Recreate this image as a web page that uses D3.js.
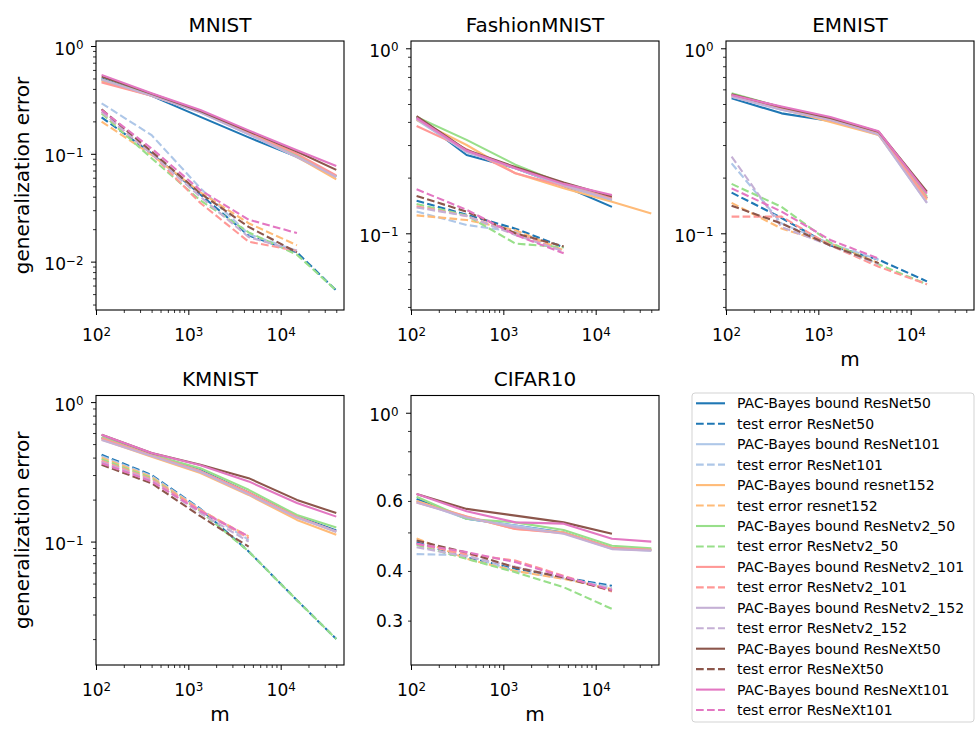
<!DOCTYPE html>
<meta charset="utf-8">
<style>
body { margin: 0; background: #fff; }
text { font-family: "DejaVu Sans", sans-serif; fill: #000; }
</style>

<svg width="975" height="729"></svg>

<script src="https://d3js.org/d3.v7.min.js"></script>
<script>
// PAC-Bayes bound vs test error for several ResNet variants, five datasets, log-log

var models = ["ResNet50", "ResNet101", "resnet152", "ResNetv2_50", "ResNetv2_101", "ResNetv2_152", "ResNeXt50", "ResNeXt101"];
var colors = ["#1f77b4", "#aec7e8", "#ffbb78", "#98df8a", "#ff9896", "#c5b0d5", "#8c564b", "#e377c2"];

// training set sizes (x axis)
var mValues = [115, 400, 1350, 4500, 15000, 40000];

// one row per model, one value per m (null = not run)
var mnistBound = [
  [0.50, 0.345, 0.22, 0.142, 0.094, 0.062],
  [0.49, 0.35, 0.243, 0.152, 0.093, 0.061],
  [0.47, 0.345, 0.245, 0.155, 0.094, 0.058],
  [0.49, 0.35, 0.245, 0.155, 0.097, 0.062],
  [0.46, 0.345, 0.245, 0.157, 0.10, 0.063],
  [0.49, 0.345, 0.242, 0.152, 0.094, 0.061],
  [0.52, 0.36, 0.25, 0.162, 0.105, 0.071],
  [0.54, 0.365, 0.255, 0.165, 0.108, 0.077]
];
var mnistTest = [
  [0.218, 0.101, 0.042, 0.0175, 0.0122, 0.0054],
  [0.294, 0.149, 0.048, 0.018, 0.0126, null],
  [0.199, 0.098, 0.044, 0.0227, 0.0142, null],
  [0.237, 0.091, 0.037, 0.0187, 0.0116, 0.0054],
  [0.245, 0.100, 0.035, 0.0153, 0.0126, null],
  [0.246, 0.100, 0.040, 0.0169, 0.0126, null],
  [0.259, 0.105, 0.043, 0.021, 0.0122, null],
  [0.255, 0.112, 0.046, 0.0245, 0.0184, null]
];

var fashionBound = [
  [0.425, 0.265, 0.225, 0.18, 0.139, null],
  [0.41, 0.275, 0.225, 0.18, 0.15, null],
  [0.41, 0.30, 0.211, 0.175, 0.148, 0.128],
  [0.425, 0.32, 0.235, 0.185, 0.152, null],
  [0.38, 0.285, 0.211, 0.18, 0.155, null],
  [0.415, 0.275, 0.225, 0.182, 0.152, null],
  [0.43, 0.282, 0.228, 0.188, 0.158, null],
  [0.42, 0.28, 0.225, 0.185, 0.161, null]
];
var fashionTest = [
  [0.150, 0.126, 0.106, 0.084, null, null],
  [0.131, 0.111, 0.102, 0.080, null, null],
  [0.125, 0.118, 0.104, 0.081, null, null],
  [0.144, 0.125, 0.088, 0.084, null, null],
  [0.140, 0.124, 0.100, 0.080, null, null],
  [0.138, 0.124, 0.098, 0.080, null, null],
  [0.159, 0.131, 0.100, 0.085, null, null],
  [0.173, 0.134, 0.098, 0.078, null, null]
];

var emnistBound = [
  [0.537, 0.445, 0.405, 0.345, 0.155, null],
  [0.548, 0.465, 0.41, 0.34, 0.146, null],
  [0.55, 0.47, 0.40, 0.34, 0.152, null],
  [0.571, 0.48, 0.415, 0.35, 0.158, null],
  [0.555, 0.47, 0.41, 0.345, 0.155, null],
  [0.548, 0.465, 0.41, 0.342, 0.146, null],
  [0.565, 0.48, 0.42, 0.354, 0.168, null],
  [0.559, 0.484, 0.425, 0.356, 0.164, null]
];
var emnistTest = [
  [0.166, 0.121, 0.086, 0.072, 0.055, null],
  [0.239, 0.113, 0.088, 0.072, null, null],
  [0.146, 0.106, 0.088, 0.069, null, null],
  [0.185, 0.139, 0.089, 0.068, 0.053, null],
  [0.123, 0.123, 0.086, 0.066, 0.053, null],
  [0.26, 0.108, 0.086, 0.068, null, null],
  [0.141, 0.113, 0.086, 0.069, null, null],
  [0.175, 0.131, 0.092, 0.073, null, null]
];

var kmnistBound = [
  [0.555, 0.42, 0.325, 0.225, 0.152, 0.12],
  [0.55, 0.415, 0.32, 0.222, 0.15, 0.117],
  [0.54, 0.405, 0.31, 0.216, 0.143, 0.112],
  [0.56, 0.42, 0.336, 0.235, 0.155, 0.126],
  [0.55, 0.415, 0.32, 0.225, 0.15, 0.118],
  [0.535, 0.41, 0.315, 0.218, 0.148, 0.118],
  [0.583, 0.431, 0.355, 0.285, 0.199, 0.16],
  [0.583, 0.431, 0.352, 0.27, 0.189, 0.151]
];
var kmnistTest = [
  [0.419, 0.30, 0.172, 0.085, 0.038, 0.020],
  [0.41, 0.295, 0.17, 0.103, null, null],
  [0.40, 0.29, 0.168, 0.109, null, null],
  [0.39, 0.285, 0.165, 0.085, 0.038, 0.020],
  [0.38, 0.28, 0.168, 0.106, null, null],
  [0.372, 0.275, 0.16, 0.10, null, null],
  [0.355, 0.262, 0.152, 0.092, null, null],
  [0.365, 0.27, 0.165, 0.109, null, null]
];

var cifarBound = [
  [0.607, 0.541, 0.52, 0.50, 0.457, 0.452],
  [0.60, 0.541, 0.52, 0.498, 0.455, 0.45],
  [0.60, 0.548, 0.51, 0.50, 0.457, 0.452],
  [0.615, 0.541, 0.53, 0.507, 0.463, 0.456],
  [0.595, 0.548, 0.51, 0.498, 0.457, 0.452],
  [0.595, 0.545, 0.515, 0.496, 0.454, 0.45],
  [0.625, 0.573, 0.551, 0.53, 0.496, null],
  [0.625, 0.565, 0.530, 0.526, 0.482, 0.474]
];
var cifarTest = [
  [0.472, 0.433, 0.405, 0.385, 0.367, null],
  [0.441, 0.438, 0.40, 0.383, 0.364, null],
  [0.483, 0.429, 0.40, 0.382, 0.36, null],
  [0.465, 0.429, 0.397, 0.364, 0.321, null],
  [0.468, 0.44, 0.425, 0.389, 0.355, null],
  [0.459, 0.435, 0.41, 0.384, 0.36, null],
  [0.477, 0.445, 0.408, 0.385, 0.357, null],
  [0.468, 0.446, 0.421, 0.387, 0.358, null]
];

var xDomain = [100, 48500];

var panels = [
  {title: "MNIST", bound: mnistBound, test: mnistTest, left: 96, top: 41, bottom: 310, yDomain: [0.00356, 1.113], ylab: true, xlab: false},
  {title: "FashionMNIST", bound: fashionBound, test: fashionTest, left: 411, top: 41, bottom: 310, yDomain: [0.0385, 1.095], ylab: false, xlab: false},
  {title: "EMNIST", bound: emnistBound, test: emnistTest, left: 726, top: 41, bottom: 310, yDomain: [0.0385, 1.095], ylab: false, xlab: true},
  {title: "KMNIST", bound: kmnistBound, test: kmnistTest, left: 96, top: 395.5, bottom: 665, yDomain: [0.01304, 1.115], ylab: true, xlab: true},
  {title: "CIFAR10", bound: cifarBound, test: cifarTest, left: 411, top: 395.5, bottom: 665, yDomain: [0.232, 1.105], ylab: false, xlab: true, linearLabels: true}
];
var panelWidth = 248;

var svg = d3.select("svg");

// "10" with a raised exponent
function powLabel(sel, d) {
  var e = Math.round(Math.log10(d));
  sel.text(null);
  sel.append("tspan").text("10");
  sel.append("tspan").attr("dy", "-0.45em").attr("font-size", "0.7em")
    .text(e < 0 ? "\u2212" + (-e) : String(e));
}

function isPow10(d) {
  return Math.abs(Math.log10(d) - Math.round(Math.log10(d))) < 1e-9;
}

// d3 axis writes its own font attrs, so set ours afterwards
function tickFont(a) {
  a.attr("font-size", 17).attr("font-family", "DejaVu Sans");
}

panels.forEach(function(p) {
  var x = d3.scaleLog().domain(xDomain).range([p.left, p.left + panelWidth]);
  var y = d3.scaleLog().domain(p.yDomain).range([p.bottom, p.top]);
  var g = svg.append("g");

  var line = d3.line()
    .defined(function(d) { return d.v != null; })
    .x(function(d) { return x(d.m); })
    .y(function(d) { return y(d.v); });

  function pts(vals) {
    return mValues.map(function(m, k) { return {m: m, v: vals[k]}; });
  }

  // bound (solid) then test error (dashed), model by model like the legend
  models.forEach(function(name, i) {
    g.append("path")
      .attr("d", line(pts(p.bound[i])))
      .attr("fill", "none")
      .attr("stroke", colors[i])
      .attr("stroke-width", 2.1)
      .attr("stroke-linejoin", "round");
    g.append("path")
      .attr("d", line(pts(p.test[i])))
      .attr("fill", "none")
      .attr("stroke", colors[i])
      .attr("stroke-width", 2.1)
      .attr("stroke-dasharray", "7.7,3.3");
  });

  // x axis
  var xt = x.ticks();
  var xMajor = xt.filter(isPow10);
  var xMinor = xt.filter(function(d) { return !isPow10(d); });

  g.append("g")
    .attr("transform", "translate(0," + p.bottom + ")")
    .call(d3.axisBottom(x).tickValues(xMinor).tickSize(3).tickFormat(""))
    .call(function(a) { a.select(".domain").remove(); a.selectAll("line").attr("stroke-width", 0.8); });

  g.append("g")
    .attr("transform", "translate(0," + p.bottom + ")")
    .call(d3.axisBottom(x).tickValues(xMajor).tickSize(5).tickPadding(14.4).tickFormat(""))
    .call(tickFont)
    .call(function(a) {
      a.select(".domain").remove();
      a.selectAll(".tick text").each(function(d) { powLabel(d3.select(this), d); });
    });

  // y axis
  var yt = y.ticks();
  var yMajor = yt.filter(isPow10);
  var yMinor = yt.filter(function(d) { return !isPow10(d); });

  var minorAxis = d3.axisLeft(y).tickValues(yMinor).tickSize(3).tickPadding(5);
  if (p.linearLabels) {
    minorAxis.tickFormat(function(d) { return [0.3, 0.4, 0.6].indexOf(+d.toFixed(1)) >= 0 ? d3.format(".1f")(d) : ""; });
  } else {
    minorAxis.tickFormat("");
  }
  g.append("g")
    .attr("transform", "translate(" + p.left + ",0)")
    .call(minorAxis)
    .call(tickFont)
    .call(function(a) { a.select(".domain").remove(); a.selectAll("line").attr("stroke-width", 0.8); });

  g.append("g")
    .attr("transform", "translate(" + p.left + ",0)")
    .call(d3.axisLeft(y).tickValues(yMajor).tickSize(5).tickPadding(7.5).tickFormat(""))
    .call(tickFont)
    .call(function(a) {
      a.select(".domain").remove();
      a.selectAll(".tick text").attr("dy", "0.47em").each(function(d) { powLabel(d3.select(this), d); });
    });

  // frame
  g.append("rect")
    .attr("x", p.left)
    .attr("y", p.top)
    .attr("width", panelWidth)
    .attr("height", p.bottom - p.top)
    .attr("fill", "none")
    .attr("stroke", "#000")
    .attr("stroke-width", 1.1);

  // title
  g.append("text")
    .attr("x", p.left + panelWidth / 2)
    .attr("y", p.top - 9.5)
    .attr("text-anchor", "middle")
    .attr("font-size", 20)
    .text(p.title);

  if (p.xlab) {
    g.append("text")
      .attr("x", p.left + panelWidth / 2)
      .attr("y", p.bottom + 56)
      .attr("text-anchor", "middle")
      .attr("font-size", 20)
      .text("m");
  }
  if (p.ylab) {
    g.append("text")
      .attr("transform", "translate(29," + ((p.top + p.bottom) / 2) + ") rotate(-90)")
      .attr("text-anchor", "middle")
      .attr("font-size", 20)
      .text("generalization error");
  }
});

// legend
var legend = svg.append("g").attr("transform", "translate(692,393)");
legend.append("rect")
  .attr("width", 282)
  .attr("height", 329)
  .attr("rx", 3)
  .attr("fill", "#fff")
  .attr("stroke", "#d3d3d3");

var entries = [];
models.forEach(function(name, i) {
  entries.push({label: "PAC-Bayes bound " + name, color: colors[i], dashed: false});
  entries.push({label: "test error " + name, color: colors[i], dashed: true});
});

var item = legend.selectAll("g.item")
  .data(entries)
  .enter().append("g")
    .attr("class", "item")
    .attr("transform", function(d, i) { return "translate(0," + (10.3 + i * 20.45) + ")"; });

item.append("line")
  .attr("x1", 4)
  .attr("x2", 33)
  .attr("stroke", function(d) { return d.color; })
  .attr("stroke-width", 2.1)
  .attr("stroke-dasharray", function(d) { return d.dashed ? "7.7,3.3" : null; });

item.append("text")
  .attr("x", 45)
  .attr("y", 5)
  .attr("font-size", 14)
  .text(function(d) { return d.label; });
</script>
